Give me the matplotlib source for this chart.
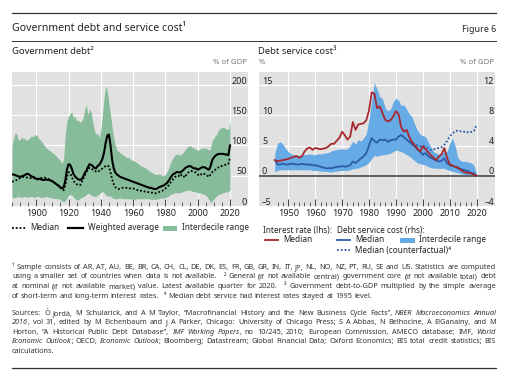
import numpy as np
import matplotlib.pyplot as plt
from matplotlib.lines import Line2D
from matplotlib.patches import Rectangle
from matplotlib.transforms import blended_transform_factory, offset_copy

plt.rcParams['font.family'] = ['Noto Sans', 'DejaVu Sans']

# ---- data: government debt (% of GDP), 1885-2020
debt_years = np.arange(1885, 2021)
debt_upper = [100, 112, 121, 118, 108, 110, 114, 110, 112, 108,
              110, 112, 116, 114, 118, 117, 114, 110, 108, 104,
              100, 96, 94, 92, 90, 88, 86, 84, 80, 78,
              74, 70, 78, 118, 140, 148, 152, 155, 146, 148,
              140, 142, 138, 140, 145, 158, 168, 150, 160, 155,
              138, 125, 118, 120, 112, 125, 150, 178, 198, 190,
              170, 150, 130, 112, 100, 92, 90, 88, 86, 84,
              82, 80, 80, 78, 76, 75, 74, 72, 70, 68,
              66, 65, 64, 62, 60, 58, 56, 55, 53, 52,
              52, 53, 52, 50, 50, 52, 56, 62, 70, 76,
              81, 84, 86, 85, 84, 86, 88, 92, 96, 98,
              100, 98, 96, 95, 93, 92, 93, 95, 96, 95,
              96, 94, 92, 96, 108, 112, 116, 120, 126, 128,
              130, 130, 128, 127, 126, 140]
debt_lower = [15, 14, 14, 15, 16, 15, 14, 15, 16, 15,
              14, 15, 16, 15, 14, 15, 16, 15, 14, 14,
              15, 16, 15, 14, 14, 13, 13, 12, 12, 12,
              10, 8, 7, 9, 13, 17, 19, 18, 15, 12,
              10, 10, 12, 14, 15, 17, 19, 21, 20, 18,
              17, 16, 16, 18, 20, 22, 24, 22, 18, 16,
              17, 16, 14, 12, 12, 12, 13, 13, 12, 12,
              12, 12, 12, 12, 11, 11, 11, 12, 12, 12,
              12, 12, 12, 12, 12, 12, 11, 11, 11, 11,
              12, 12, 13, 13, 13, 14, 15, 17, 19, 20,
              21, 22, 22, 22, 22, 23, 24, 25, 26, 26,
              26, 25, 24, 24, 23, 22, 22, 21, 20, 19,
              18, 14, 10, 6, 8, 12, 15, 17, 19, 20,
              21, 22, 23, 23, 24, 26]
debt_wavg = [52, 52, 51, 50, 49, 48, 49, 50, 51, 53,
             53, 51, 49, 48, 46, 45, 44, 45, 44, 43,
             43, 44, 43, 43, 42, 41, 39, 37, 35, 33,
             31, 29, 31, 42, 60, 69, 68, 62, 53, 49,
             46, 44, 43, 44, 48, 54, 58, 64, 69, 68,
             66, 63, 62, 66, 68, 72, 78, 88, 104, 116,
             118, 100, 76, 62, 55, 52, 50, 48, 47, 46,
             45, 44, 43, 42, 41, 40, 39, 38, 37, 36,
             35, 34, 33, 32, 31, 30, 30, 29, 28, 28,
             29, 31, 32, 33, 34, 36, 38, 42, 46, 50,
             53, 54, 56, 56, 55, 57, 59, 62, 64, 65,
             66, 65, 63, 62, 62, 60, 61, 63, 64, 64,
             63, 61, 60, 66, 76, 80, 83, 85, 86, 86,
             86, 86, 85, 85, 84, 100]
debt_median = [40, 41, 42, 43, 45, 46, 47, 48, 48, 47,
               47, 46, 46, 47, 47, 46, 45, 45, 46, 47,
               47, 46, 45, 44, 42, 40, 38, 37, 35, 33,
               30, 27, 26, 34, 48, 56, 54, 48, 42, 38,
               36, 35, 34, 38, 44, 50, 56, 60, 63, 62,
               60, 58, 57, 56, 58, 60, 62, 64, 66, 67,
               65, 56, 44, 36, 31, 29, 28, 29, 30, 30,
               30, 30, 30, 29, 29, 29, 28, 27, 26, 26,
               25, 25, 24, 24, 23, 23, 22, 22, 21, 21,
               22, 23, 24, 25, 27, 29, 31, 34, 38, 42,
               45, 48, 50, 50, 48, 52, 50, 47, 52, 55,
               57, 58, 57, 56, 55, 52, 50, 52, 54, 53,
               52, 50, 48, 52, 56, 58, 60, 62, 64, 66,
               66, 67, 68, 68, 70, 80]

# ---- data: debt service, 1945-2020
svc_years = np.arange(1945, 2021)
rate_median = [2.6, 2.4, 2.5, 2.6, 2.7, 2.8, 3.0, 3.1, 3.3, 3.0,
               3.2, 4.0, 4.5, 4.7, 4.3, 4.6, 4.5, 4.4, 4.5, 4.6,
               4.9, 5.3, 5.3, 5.8, 6.3, 7.3, 6.7, 6.0, 6.5, 8.9,
               7.6, 8.5, 8.6, 8.7, 9.2, 10.8, 13.8, 13.6, 11.2, 11.5,
               10.4, 9.3, 9.0, 9.2, 9.8, 10.7, 10.2, 8.0, 7.3, 7.6,
               6.4, 5.6, 5.0, 4.5, 4.0, 4.9, 4.4, 3.9, 3.4, 3.0,
               2.6, 3.2, 3.6, 4.6, 3.0, 1.9, 1.7, 1.5, 1.4, 1.0,
               0.7, 0.5, 0.5, 0.4, 0.2, 0.0]
svc_median = [2.1, 1.5, 1.5, 1.6, 1.5, 1.5, 1.6, 1.6, 1.5, 1.5,
              1.6, 1.5, 1.5, 1.5, 1.4, 1.4, 1.3, 1.2, 1.1, 1.0,
              1.0, 1.0, 1.1, 1.2, 1.2, 1.3, 1.2, 1.3, 1.4, 1.9,
              1.7, 2.0, 2.3, 2.6, 3.0, 4.0, 5.0, 4.6, 4.4, 4.8,
              4.7, 4.8, 4.5, 4.7, 4.8, 4.8, 5.2, 5.4, 5.1, 4.8,
              4.5, 4.2, 3.9, 3.5, 3.2, 2.8, 3.0, 2.6, 2.4, 2.2,
              2.0, 1.9, 2.0, 2.3, 1.7, 1.4, 1.3, 1.2, 1.0, 0.9,
              0.8, 0.7, 0.6, 0.4, 0.3, 0.0]
svc_upper = [3.0, 4.3, 4.5, 4.2, 3.6, 3.2, 2.9, 2.8, 2.7, 2.7,
             2.8, 2.8, 2.8, 2.9, 2.8, 2.8, 2.9, 2.9, 3.0, 3.0,
             3.1, 3.3, 3.4, 3.5, 3.5, 3.6, 3.5, 3.6, 4.0, 4.6,
             4.2, 4.8, 4.6, 5.0, 5.6, 7.5, 10.0, 12.3, 11.5, 10.5,
             10.2, 9.0, 8.6, 8.8, 9.8, 10.3, 10.0, 9.3, 9.4, 8.8,
             8.2, 7.8, 6.8, 6.0, 5.5, 5.3, 5.2, 4.5, 3.8, 3.2,
             3.0, 2.8, 3.0, 3.2, 3.2, 4.3, 5.0, 4.0, 2.4, 2.0,
             1.9, 1.9, 1.8, 1.7, 1.4, 0.2]
svc_lower = [0.5, 0.7, 0.8, 0.8, 0.8, 0.8, 0.8, 0.8, 0.8, 0.8,
             0.8, 0.8, 0.8, 0.8, 0.7, 0.7, 0.7, 0.6, 0.6, 0.6,
             0.5, 0.5, 0.6, 0.6, 0.7, 0.7, 0.7, 0.7, 0.8, 0.9,
             1.0, 1.0, 1.2, 1.3, 1.5, 1.8, 2.3, 2.7, 2.6, 2.7,
             2.8, 2.8, 2.9, 3.0, 3.2, 3.4, 3.3, 3.2, 3.0, 2.8,
             2.6, 2.3, 2.0, 1.7, 1.6, 1.5, 1.4, 1.2, 1.1, 1.0,
             1.0, 1.0, 1.0, 1.0, 0.8, 0.7, 0.6, 0.5, 0.4, 0.3,
             0.2, 0.1, 0.1, 0.0, 0.0, -0.1]
cf_years = np.arange(1995, 2021)
svc_counterfactual = [4.5, 4.3, 4.2, 4.0, 3.9, 4.0, 3.8, 3.6, 3.4, 3.5,
                      3.6, 3.7, 3.8, 4.1, 4.6, 5.2, 5.6, 5.9, 6.0, 5.9,
                      5.8, 5.9, 5.7, 5.8, 5.9, 6.8]

GRAY_BG = '#e1e1e1'
GREEN = '#86bc9a'
LBLUE = '#66aae6'
DBLUE = '#2b5ca8'
RED = '#a8282e'
TXT = '#222222'

W, H = 522, 380
fig = plt.figure(figsize=(W / 100, H / 100), dpi=100)


def fx(x):
    return x / W


def fy(y):
    return 1 - y / H


def add_ax(x0, x1, y0, y1):
    return fig.add_axes([fx(x0), fy(y1), (x1 - x0) / W, (y1 - y0) / H])


def hline(x0, x1, y, **kw):
    fig.add_artist(Line2D([fx(x0), fx(x1)], [fy(y), fy(y)], transform=fig.transFigure, **kw))


def ftext(x, y, s, **kw):
    kw.setdefault('va', 'center')
    kw.setdefault('color', TXT)
    fig.text(fx(x), fy(y), s, **kw)


TICK_FS = 6.5


def ylabels(ax, vals, labels, xfrac, ha):
    tr = offset_copy(blended_transform_factory(ax.transAxes, ax.transData),
                     fig=fig, x=0, y=1.3, units='dots')
    for v, l in zip(vals, labels):
        ax.text(xfrac, v, l, transform=tr, ha=ha, va='baseline', fontsize=TICK_FS, color=TXT)


def style_ax(ax):
    ax.set_facecolor(GRAY_BG)
    for s in ax.spines.values():
        s.set_visible(False)
    ax.grid(True, which='major', color='white', lw=0.8)
    ax.set_axisbelow(True)
    ax.tick_params(axis='y', length=0, labelleft=False, labelright=False)
    ax.tick_params(axis='x', which='major', direction='in', length=5, width=0.7,
                   color='#444444', pad=2.5, labelsize=TICK_FS, labelcolor=TXT)
    ax.tick_params(axis='x', which='minor', direction='in', length=3, width=0.6, color='#444444')


# ---- left panel
ax1 = add_ax(12, 248, 72, 206)
style_ax(ax1)
ax1.set_xlim(1885, 1885 + 236 / 1.615)
ax1.set_ylim(0, 134 / 0.606)
ax1.set_xticks(range(1900, 2021, 20))
ax1.set_xticks(range(1885, 2021, 5), minor=True)
ax1.set_yticks([0, 50, 100, 150, 200])
ax1.fill_between(debt_years, debt_lower, debt_upper, color=GREEN, lw=0, zorder=2)
ax1.plot(debt_years, debt_median, color='black', lw=1.3, ls=(0, (1, 1.1)), zorder=3)
ax1.plot(debt_years, debt_wavg, color='black', lw=1.5, zorder=4)
ylabels(ax1, [0, 50, 100, 150, 200], ['0', '50', '100', '150', '200'], 235 / 236, 'right')

# ---- right panel (primary = rhs % of GDP, twin = lhs %)
ax2 = add_ax(259, 495, 72, 206)
style_ax(ax2)
ax2.set_xlim(1950 - 29.3 / 2.69, 1950 + 206.7 / 2.69)
ax2.set_ylim(-4, -4 + 134 / 7.55)
ax2.set_xticks(range(1950, 2021, 10))
ax2.set_xticks(range(1946, 2021, 2), minor=True)
ax2.set_yticks([-4, 0, 4, 8, 12])
ax2.fill_between(svc_years, svc_lower, svc_upper, color=LBLUE, lw=0, zorder=2)
ax2.axhline(0, color='#555555', lw=1.3, zorder=3)
ax2.plot(svc_years, svc_median, color=DBLUE, lw=1.3, zorder=4)
ax2.plot(cf_years, svc_counterfactual, color=DBLUE, lw=1.3, ls=(0, (1, 1.1)), zorder=4)
ylabels(ax2, [-4, 0, 4, 8, 12], ['–4', '0', '4', '8', '12'], 235 / 236, 'right')

ax2t = ax2.twinx()
ax2t.set_ylim(-5, -5 + 134 / 6.04)
for s in ax2t.spines.values():
    s.set_visible(False)
ax2t.set_yticks([])
ax2t.plot(svc_years, rate_median, color=RED, lw=1.3, zorder=5)
ylabels(ax2t, [-5, 0, 5, 10, 15], ['–5', '0', '5', '10', '15'], 3 / 236, 'left')

# ---- header
hline(12, 496, 13, color='#333333', lw=0.9)
hline(12, 496, 41, color='#333333', lw=0.7)
hline(12, 496, 367.5, color='#333333', lw=0.9)
ftext(12, 28.5, 'Government debt and service cost¹', fontsize=7.6)
ftext(496, 29, 'Figure 6', fontsize=6.4, ha='right')
ftext(12, 52, 'Government debt²', fontsize=6.8)
ftext(258, 52, 'Debt service cost³', fontsize=6.8)
ftext(247, 63, '% of GDP', fontsize=5.6, ha='right', color='#777777')
ftext(259, 63, '%', fontsize=5.6, color='#777777')
ftext(494, 63, '% of GDP', fontsize=5.6, ha='right', color='#777777')

# ---- legends
LFS = 5.9
hline(12, 27, 228, color='black', lw=1.3, ls=(0, (1, 1.1)))
ftext(30, 228, 'Median', fontsize=LFS)
hline(68, 83, 228, color='black', lw=1.6)
ftext(88, 228, 'Weighted average', fontsize=LFS)
fig.add_artist(Rectangle((fx(163), fy(230.5)), 14 / W, 5 / H, transform=fig.transFigure,
                         color=GREEN, lw=0))
ftext(182, 228, 'Interdecile range', fontsize=LFS)

ftext(263, 230, 'Interest rate (lhs):', fontsize=LFS)
ftext(337, 230, 'Debt service cost (rhs):', fontsize=LFS)
hline(265, 278, 240, color=RED, lw=1.3)
ftext(283, 240, 'Median', fontsize=LFS)
hline(337, 350, 240, color=DBLUE, lw=1.3)
ftext(355, 240, 'Median', fontsize=LFS)
fig.add_artist(Rectangle((fx(400), fy(242.5)), 15 / W, 5 / H, transform=fig.transFigure,
                         color=LBLUE, lw=0))
ftext(419, 240, 'Interdecile range', fontsize=LFS)
hline(337, 350, 250, color=DBLUE, lw=1.3, ls=(0, (1, 1.1)))
ftext(355, 250, 'Median (counterfactual)⁴', fontsize=LFS)

# ---- footnotes, justified word by word
renderer = fig.canvas.get_renderer()


def width_of(s, size, italic=False):
    t = fig.text(0, 0, s, fontsize=size, style='italic' if italic else 'normal')
    w = t.get_window_extent(renderer).width
    t.remove()
    return w


def draw_line(y, line, size, justify=True, x0=12, x1=496):
    toks, weights, pending, italic = [], [], 0, False
    for w in line.split(' '):
        if w == '':
            pending += 1
            continue
        pieces = []
        for k, seg in enumerate(w.split('_')):
            if k > 0:
                italic = not italic
            if seg:
                pieces.append((seg, italic))
        weights.append(0 if not toks else 1 + pending)
        toks.append(pieces)
        pending = 0
    sp = width_of('x x', size) - width_of('xx', size)
    widths = [[width_of(p, size, it) for p, it in tok] for tok in toks]
    natural = sum(sum(ws) for ws in widths) + sum(weights) * sp
    extra = (x1 - x0 - natural) / max(len(toks) - 1, 1) if justify else 0
    x = x0
    for i, tok in enumerate(toks):
        if i > 0:
            x += weights[i] * sp + extra
        for (p, it), wp in zip(tok, widths[i]):
            fig.text(fx(x), fy(y), p, fontsize=size, style='italic' if it else 'normal',
                     va='center', color='#333333')
            x += wp


notes = [
    '¹ Sample consists of AR, AT, AU, BE, BR, CA, CH, CL, DE, DK, ES, FR, GB, GR, IN, IT, JP, NL, NO, NZ, PT, RU, SE and US. Statistics are computed',
    'using a smaller set of countries when data is not available.   ² General (if not available central) government core (if not available total) debt',
    'at nominal (if not available market) value. Latest available quarter for 2020.   ³ Government debt-to-GDP multiplied by the simple average',
    'of short-term and long-term interest rates.   ⁴ Median debt service had interest rates stayed at 1995 level.',
]
sources = [
    'Sources: Ò Jordà, M Schularick, and A M Taylor, “Macrofinancial History and the New Business Cycle Facts”, _NBER Macroeconomics Annual_',
    '_2016_, vol 31, edited by M Eichenbaum and J A Parker, Chicago: University of Chicago Press; S A Abbas, N Belhocine, A ElGanainy, and M',
    'Horton, “A Historical Public Debt Database”, _IMF Working Papers_, no 10/245, 2010; European Commission, AMECO database; IMF, _World_',
    '_Economic Outlook_; OECD, _Economic Outlook_; Bloomberg; Datastream; Global Financial Data; Oxford Economics; BIS total credit statistics; BIS',
    'calculations.',
]
FN = 10 * 474 / width_of(notes[1], 10)
for i, (yy, line) in enumerate(zip([267.5, 277, 286.7, 296.5], notes)):
    draw_line(yy, line, FN, justify=i < 3)
for i, (yy, line) in enumerate(zip([313.3, 322.8, 332.3, 341.8, 351.2], sources)):
    draw_line(yy, line, FN, justify=i < 4)

fig.savefig('out.png', dpi=100)
